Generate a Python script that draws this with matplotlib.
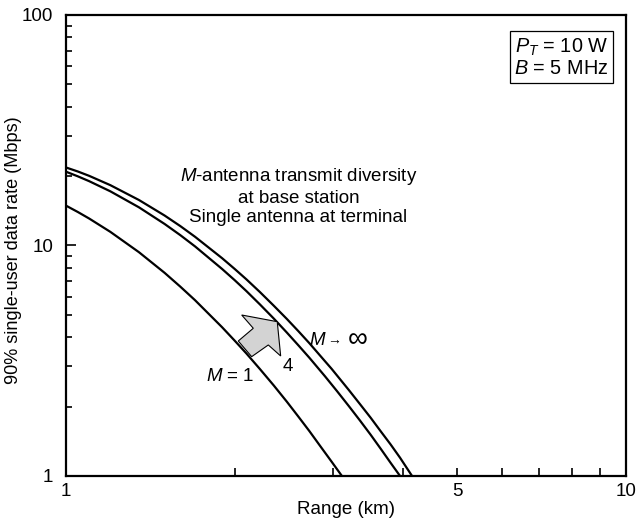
import matplotlib
matplotlib.use("Agg")
import matplotlib.pyplot as plt
from matplotlib.patches import Polygon
from matplotlib.ticker import FixedLocator, NullFormatter, LogLocator

plt.rcParams["font.family"] = ["Liberation Sans", "DejaVu Sans"]
plt.rcParams["mathtext.fontset"] = "custom"
plt.rcParams["mathtext.rm"] = "Liberation Sans"
plt.rcParams["mathtext.it"] = "Liberation Sans:italic"

# values (range in km, rate in Mbps)
range_inf = [1.0, 1.05, 1.1, 1.2, 1.35, 1.5, 1.6, 1.7, 1.9, 2.0, 2.1, 2.22, 2.35, 2.48,
             2.6, 2.72, 2.9, 2.98, 3.2, 3.35, 3.5, 3.65, 3.8, 3.95, 4.15]
rate_inf = [21.8, 20.94, 20.05, 18.27, 15.75, 13.49, 12.14, 10.91, 8.81, 7.92, 7.13, 6.28, 5.48, 4.80,
            4.25, 3.77, 3.15, 2.92, 2.36, 2.05, 1.79, 1.56, 1.37, 1.20, 1.0]

range_m4 = [1.0, 1.05, 1.1, 1.2, 1.35, 1.5, 1.6, 1.7, 1.9, 2.0, 2.1, 2.22, 2.35, 2.48,
            2.6, 2.72, 2.9, 3.05, 3.2, 3.35, 3.5, 3.65, 3.8, 3.95]
rate_m4 = [20.9, 19.95, 19.01, 17.18, 14.64, 12.40, 11.09, 9.91, 7.91, 7.08, 6.34, 5.55, 4.82, 4.19,
           3.69, 3.26, 2.71, 2.33, 2.01, 1.74, 1.51, 1.31, 1.14, 1.0]

range_m1 = [1.0, 1.05, 1.1, 1.2, 1.35, 1.5, 1.6, 1.7, 1.9, 2.0, 2.1, 2.22, 2.35, 2.48,
            2.6, 2.72, 2.85, 2.98, 3.11]
rate_m1 = [14.89, 13.97, 13.09, 11.46, 9.35, 7.61, 6.63, 5.79, 4.42, 3.87, 3.40, 2.91, 2.47, 2.10,
           1.81, 1.567, 1.34, 1.155, 1.0]

x_labels = {1: "1", 5: "5", 10: "10"}
y_labels = {1: "1", 10: "10", 100: "100"}

fs = 13.5

fig = plt.figure(figsize=(6.37, 5.26), dpi=100)
ax = fig.add_axes([0.1036, 0.0951, 0.879, 0.8764])

for xs, ys in [(range_inf, rate_inf), (range_m4, rate_m4), (range_m1, rate_m1)]:
    ax.plot(xs, ys, color="black", lw=1.6, solid_joinstyle="round")

ax.set_xscale("log")
ax.set_yscale("log")
ax.set_xlim(1, 10)
ax.set_ylim(1, 100)

ax.xaxis.set_major_locator(FixedLocator(list(x_labels)))
ax.set_xticklabels(list(x_labels.values()))
ax.xaxis.set_minor_locator(LogLocator(base=10, subs=range(2, 10)))
ax.xaxis.set_minor_formatter(NullFormatter())
ax.yaxis.set_major_locator(FixedLocator(list(y_labels)))
ax.set_yticklabels(list(y_labels.values()))
ax.yaxis.set_minor_locator(LogLocator(base=10, subs=range(2, 10)))
ax.yaxis.set_minor_formatter(NullFormatter())

ax.tick_params(which="both", direction="in", top=False, right=False, width=1.2, labelsize=fs)
ax.tick_params(axis="x", which="major", length=6, pad=5)
ax.tick_params(axis="x", which="minor", length=6)
ax.tick_params(axis="y", which="major", length=7, pad=9)
ax.tick_params(axis="y", which="minor", length=4)
for s in ax.spines.values():
    s.set_linewidth(1.6)

ax.set_xlabel("Range (km)", fontsize=fs, labelpad=1)
ax.set_ylabel("90% single-user data rate (Mbps)", fontsize=13.1, va="center")
ax.yaxis.set_label_coords(-0.093, 0.49)

ax.text(0.415, 0.607, "$M$-antenna transmit diversity\nat base station\nSingle antenna at terminal",
        transform=ax.transAxes, ha="center", va="center", fontsize=fs, linespacing=1.2)
ax.text(0.434, 0.294, r"$M$", transform=ax.transAxes, ha="left", va="center", fontsize=fs)
ax.text(0.467, 0.296, "→", transform=ax.transAxes, ha="left", va="center", fontsize=10)
ax.text(0.503, 0.294, "∞", transform=ax.transAxes, ha="left", va="center", fontsize=20)
ax.text(0.250, 0.215, "$M$ = 1", transform=ax.transAxes, ha="left", va="center", fontsize=fs)
ax.text(0.396, 0.237, "4", transform=ax.transAxes, ha="center", va="center", fontsize=fs)
ax.text(0.885, 0.908, "$P_T$ = 10 W\n$B$ = 5 MHz", transform=ax.transAxes, ha="center", va="center",
        fontsize=14.3, linespacing=1.1,
        bbox=dict(boxstyle="square,pad=0.22", fc="white", ec="black", lw=0.9))

arrow_pts = [(0.3773, 0.3347), (0.3138, 0.3492), (0.3345, 0.3204), (0.3077, 0.2928),
             (0.3316, 0.2588), (0.3613, 0.2842), (0.3834, 0.2603)]
ax.add_patch(Polygon(arrow_pts, closed=True, transform=ax.transAxes,
                     fc="#d3d3d3", ec="black", lw=0.8, zorder=3))

fig.savefig("out.png", dpi=100)
